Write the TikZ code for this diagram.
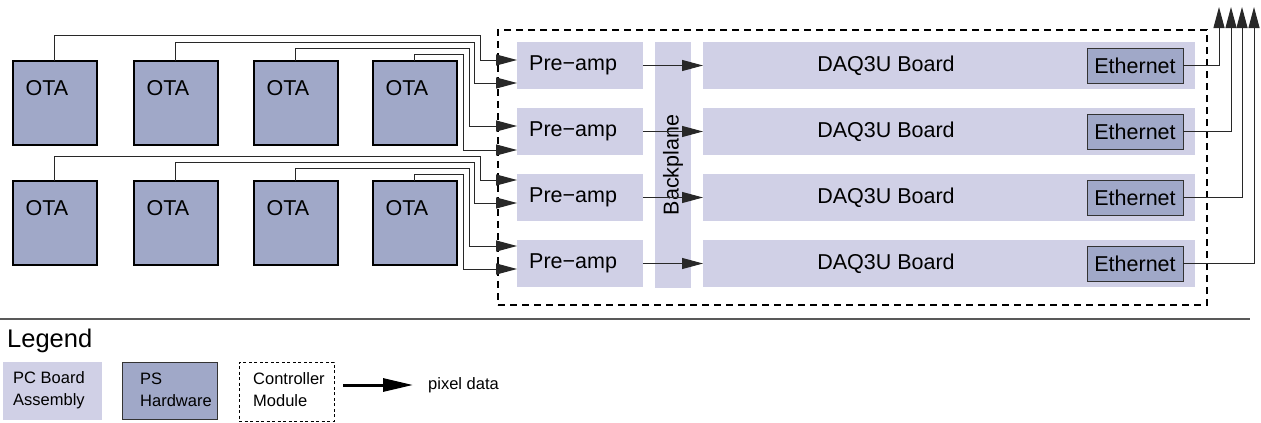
\documentclass[tikz,border=0pt]{standalone}
\usepackage{fontspec}
\setmainfont{Liberation Sans}
\usetikzlibrary{arrows.meta,calc}
\definecolor{pcb}{RGB}{208,208,230}
\definecolor{psh}{RGB}{160,168,200}
\definecolor{wirec}{RGB}{40,40,40}
\newcommand{\bigtxt}{\fontsize{21.5pt}{25pt}\selectfont}
\newcommand{\smalltxt}{\fontsize{16.5pt}{22pt}\selectfont}
\begin{document}
\begin{tikzpicture}[x=1pt,y=-1pt,
  blk/.style={inner sep=0pt, outer sep=0pt, anchor=north west},
  pcbox/.style={blk, fill=pcb},
  otabox/.style={blk, fill=psh, draw=black, line width=2pt, minimum width=84pt, minimum height=84pt},
  ethbox/.style={blk, fill=psh, draw=black!80, line width=0.8pt, minimum width=96pt, minimum height=35pt, font=\bigtxt},
  preamp/.style={pcbox, minimum width=126pt, minimum height=47pt},
  daq/.style={pcbox, minimum width=492pt, minimum height=47pt},
  lbl/.style={anchor=west, inner sep=0pt, font=\bigtxt},
  wire/.style={draw=wirec, line width=1pt},
  arr/.style={wire, -{Triangle[length=21pt,width=11pt]}}]
\useasboundingbox (0,0) rectangle (1261,423);

% controller module outline
\node[blk, draw=black, line width=2pt, dash pattern=on 7pt off 5pt,
      minimum width=709pt, minimum height=275pt] (cm) at (498,30) {};

% OTA units
\foreach \n/\x/\y in {1/12/60, 2/133/60, 3/253/60, 4/372/60,
                      5/12/180, 6/133/180, 7/253/180, 8/372/180}{
  \node[otabox] (ota\n) at (\x+0.5,\y+0.5) {};
  \node[lbl] (otalbl\n) at ($(ota\n.north west)+(13,28)$) {OTA};
}

% pre-amps, backplane, DAQ boards, ethernet
\foreach \n/\y in {1/42, 2/108, 3/174, 4/240}{
  \node[preamp] (pa\n) at (517,\y) {};
  \node[lbl] (palbl\n) at ($(pa\n.west)+(12,0)$) {Pre−amp};
  \node[daq] (daq\n) at (703,\y) {};
  \node[lbl, anchor=center] (daqlbl\n) at ($(daq\n.west)+(183,0)$) {DAQ3U Board};
  \node[ethbox] (eth\n) at (1087,\y+6) {Ethernet};
}
\node[pcbox, minimum width=36pt, minimum height=246pt] (bp) at (655,42) {};
\node[rotate=90, font=\bigtxt, inner sep=0pt] (bplbl) at (bp.center) {Backplane};

% pre-amp to DAQ links
\foreach \n in {1,...,4}{
  \draw[arr] (pa\n.east) -- (daq\n.west);
}

% OTA to pre-amp cabling
\foreach \o/\lev/\dx/\p/\off in {1/35/480/1/18, 2/42/474/1/41, 3/48/469/2/18, 4/54/463/2/42,
                                5/156/480/3/6, 6/162/474/3/29, 7/168/469/4/6, 8/174/463/4/29}{
  \draw[arr] (ota\o.north) |- (\dx,\lev) |- ($(pa\p.north west)+(0,\off)$);
}

% ethernet uplinks
\foreach \n/\x in {1/1219, 2/1231, 3/1242, 4/1254}{
  \coordinate (up\n) at (\x,7);
  \draw[arr] (eth\n.east) -| (up\n);
}

% legend
\draw[draw=black!65, line width=1.3pt] (0,319) coordinate (sepl) -- (1250,319) coordinate (sepr);
\node[anchor=base west, inner sep=0pt, font=\fontsize{25.5pt}{29pt}\selectfont] (legtitle) at (7,347) {Legend};
\node[pcbox, minimum width=99pt, minimum height=58pt] (lgpcb) at (3,362) {};
\node[anchor=west, inner sep=0pt, align=left, font=\smalltxt] (lgpcbt) at (13,390) {PC Board\\Assembly};
\node[blk, fill=psh, draw=black!80, line width=0.8pt, minimum width=95pt, minimum height=57pt] (lgps) at (122,362) {};
\node[anchor=west, inner sep=0pt, align=left, font=\smalltxt] (lgpst) at (140,390) {PS\\Hardware};
\node[blk, draw=black, line width=0.8pt, dash pattern=on 3pt off 2.5pt, minimum width=95pt, minimum height=59pt] (lgcm) at (239,362) {};
\node[anchor=west, inner sep=0pt, align=left, font=\smalltxt] (lgcmt) at (253,390) {Controller\\Module};
\coordinate (lga) at (343,385);
\node[anchor=west, inner sep=0pt, font=\smalltxt] (lgpix) at (428,385) {pixel data};
\draw[line width=3pt, -{Triangle[length=30pt,width=13pt]}] (lga) -- ($(lgpix.west)+(-15,0)$);
\end{tikzpicture}
\end{document}
